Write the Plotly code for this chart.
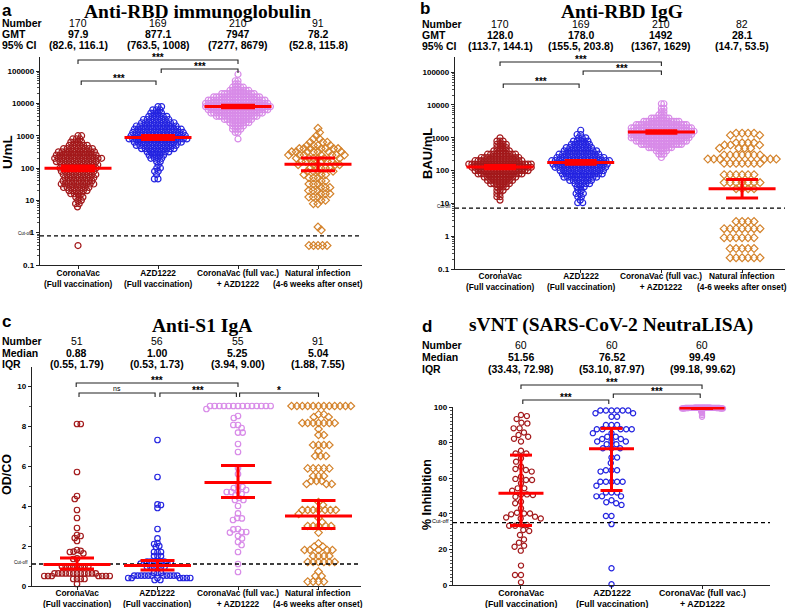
import numpy as np
import plotly.graph_objects as go

W, H = 787, 608

# ---------------------------------------------------------------- text data
CATS = ["CoronaVac<br>(Full vaccination)", "AZD1222<br>(Full vaccination)",
        "CoronaVac (full vac.)<br>+ AZD1222", "Natural infection<br>(4-6 weeks after onset)"]

titles = {"a": "Anti-RBD immunoglobulin", "b": "Anti-RBD IgG",
          "c": "Anti-S1 IgA", "d": "sVNT (SARS-CoV-2 NeutraLISA)"}
ytitles = {"a": "U/mL", "b": "BAU/mL", "c": "OD/CO", "d": "% Inhibition"}
row_labels = {"a": ["Number", "GMT", "95% CI"], "b": ["Number", "GMT", "95% CI"],
              "c": ["Number", "Median", "IQR"], "d": ["Number", "Median", "IQR"]}

a_number = ["170", "169", "210", "91"]
a_gmt = ["97.9", "877.1", "7947", "78.2"]
a_ci = ["(82.6, 116.1)", "(763.5, 1008)", "(7277, 8679)", "(52.8, 115.8)"]
b_number = ["170", "169", "210", "82"]
b_gmt = ["128.0", "178.0", "1492", "28.1"]
b_ci = ["(113.7, 144.1)", "(155.5, 203.8)", "(1367, 1629)", "(14.7, 53.5)"]
c_number = ["51", "56", "55", "91"]
c_median = ["0.88", "1.00", "5.25", "5.04"]
c_iqr = ["(0.55, 1.79)", "(0.53, 1.73)", "(3.94, 9.00)", "(1.88, 7.55)"]
d_number = ["60", "60", "60"]
d_median = ["51.56", "76.52", "99.49"]
d_iqr = ["(33.43, 72.98)", "(53.10, 87.97)", "(99.18, 99.62)"]

log_ticks = [0.1, 1, 10, 100, 1000, 10000, 100000]
log_ticktext = ["0.1", "1", "10", "100", "1000", "10000", "100000"]

a_cv_levels = [1000, 794, 631, 501, 398, 316, 251, 200, 158, 126, 100, 79, 63, 50, 40, 32, 25, 20, 16, 12.6, 10, 7.9, 6.3, 0.4]
a_cv_counts = [2, 3, 4, 6, 9, 11, 12, 14, 12, 11, 11, 10, 10, 9, 9, 10, 8, 6, 4, 3, 2, 2, 1, 1]
a_az_levels = [7943, 6310, 5012, 3981, 3162, 2512, 1995, 1585, 1259, 1000, 794, 631, 501, 398, 316, 251, 200, 158, 126, 100, 79, 63, 46]
a_az_counts = [2, 3, 4, 6, 8, 10, 12, 14, 15, 16, 17, 14, 12, 10, 7, 5, 4, 2, 1, 2, 2, 1, 2]
a_boost_levels = [79400, 50100, 39800, 31600, 25100, 19950, 15850, 12590, 10000, 7943, 6310, 5012, 3981, 3162, 2512, 1995, 1585, 1259, 794]
a_boost_counts = [1, 2, 2, 5, 8, 13, 18, 22, 24, 25, 23, 20, 16, 11, 8, 5, 4, 2, 1]
a_nat_levels = [1700, 1259, 1000, 794, 631, 501, 398, 316, 251, 200, 158, 126, 100, 79, 63, 50, 40, 32, 25, 20, 16, 12.6, 10, 7.9, 1.5, 1.2, 0.4]
a_nat_counts = [1, 1, 1, 2, 3, 4, 7, 7, 7, 6, 5, 5, 4, 4, 3, 3, 2, 3, 3, 3, 3, 3, 2, 2, 1, 1, 5]

b_cv_levels = [1000, 794, 631, 501, 398, 316, 251, 200, 158, 126, 100, 79, 63, 50, 40, 32, 25, 20, 16, 12.6]
b_cv_counts = [1, 3, 4, 4, 6, 10, 13, 16, 21, 20, 18, 15, 11, 9, 7, 4, 3, 2, 2, 1]
b_az_levels = [1700, 1259, 1000, 794, 631, 501, 398, 316, 251, 200, 158, 126, 100, 79, 63, 50, 40, 32, 25, 20, 16, 12.6, 10.5]
b_az_counts = [1, 2, 3, 5, 6, 8, 10, 12, 14, 17, 16, 15, 13, 12, 10, 7, 5, 3, 2, 3, 2, 1, 2]
b_boost_levels = [10900, 7943, 6310, 5012, 3981, 3162, 2512, 1995, 1585, 1259, 1000, 794, 631, 501, 398, 316, 251]
b_boost_counts = [2, 2, 2, 3, 8, 15, 21, 25, 26, 25, 24, 21, 17, 10, 5, 3, 1]
b_nat_levels = [1380, 1200, 700, 600, 480, 300, 224, 166, 75, 43, 28, 2.8, 1.7, 0.9, 0.42, 0.22]
b_nat_counts = [4, 2, 4, 3, 4, 7, 6, 7, 6, 7, 4, 4, 7, 6, 5, 6]

c_cv_levels = [8.1, 5.7, 4.5, 4.35, 3.8, 3.4, 2.9, 2.55, 2.5, 2.4, 2.25, 1.8, 1.76, 1.72, 1.7, 1.63, 1.38, 1.35, 0.97, 0.63, 0.5, 0.35, 0.1]
c_cv_counts = [2, 1, 1, 1, 1, 1, 1, 1, 1, 1, 1, 1, 1, 1, 1, 1, 1, 1, 8, 12, 7, 4, 1]
c_az_levels = [7.3, 5.45, 4.08, 4.05, 3.9, 2.85, 2.38, 2.15, 2.1, 2.0, 1.95, 1.7, 1.5, 1.22, 1.12, 0.95, 0.65, 0.52, 0.4, 0.3]
c_az_counts = [1, 1, 1, 1, 1, 1, 1, 1, 1, 1, 1, 3, 3, 6, 4, 6, 3, 11, 7, 2]
c_boost_levels = [9.0, 8.85, 8.5, 8.4, 8.05, 7.9, 7.67, 7.1, 6.7, 5.9, 5.6, 5.0, 4.95, 4.9, 4.8, 4.75, 4.7, 4.6, 4.55, 4.4, 4.3,
                  4.0, 3.63, 3.4, 3.38, 3.3, 2.85, 2.83, 2.7, 2.67, 2.5, 2.38, 2.2, 2.05, 1.7, 1.1, 0.7]
c_boost_counts = [14, 1, 1, 1, 2, 1, 2, 1, 1, 1, 1, 1, 1, 1, 1, 1, 2, 1, 1, 1, 2,
                  1, 1, 1, 1, 1, 1, 1, 2, 1, 1, 1, 1, 1, 1, 1, 1]
c_nat_levels = [9.0, 8.58, 8.45, 8.15, 7.85, 7.55, 7.05, 6.75, 6.5, 5.88, 5.5, 5.25, 5.1, 4.2, 4.05, 3.8, 3.6, 3.4, 3.2, 3.0, 2.67,
                2.13, 1.97, 1.8, 1.5, 1.2, 0.72, 0.5, 0.22]
c_nat_counts = [12, 2, 2, 7, 1, 2, 4, 1, 3, 5, 3, 3, 3, 1, 1, 7, 1, 1, 1, 5, 1,
                1, 2, 5, 4, 6, 1, 2, 4]

d_cv_values = [95.5, 94.9, 93.2, 91.2, 90.8, 88.0, 88.0, 85.7, 84.3, 83.3, 82.1, 80.6, 75.4, 73.9, 73.9, 71.2, 69.3, 66.5, 65.2, 64.6,
               63.7, 60.8, 59.6, 59.0, 59.0, 57.1, 54.3, 54.3, 53.0, 50.9, 50.9, 50.5, 49.6, 46.8, 45.9, 43.1, 40.6, 40.2, 40.2, 39.7,
               38.4, 37.9, 37.4, 37.4, 34.0, 33.7, 33.3, 33.3, 30.9, 30.3, 28.1, 25.6, 23.8, 22.1, 21.5, 19.3, 10.9, 5.6, 5.6, 1.5]
d_az_levels = [98, 96.5, 94.5, 89.9, 87.5, 85.3, 83.3, 82, 80.6, 79.1, 76.8, 71.6, 68.5, 64.5, 63.7, 58, 55.8, 52, 49.8, 47.6, 46.5,
               45.9, 45, 38.8, 34.2, 9.4, 0.4]
d_az_counts = [6, 2, 2, 3, 5, 2, 2, 2, 3, 2, 3, 2, 1, 3, 1, 5, 1, 3, 3, 1, 1, 1, 1, 2, 1, 1, 1]
d_boost_levels = [99.6, 99.5, 99.4, 99.2, 99.0, 98.5, 97.5, 96.5, 95.5, 94.5]
d_boost_counts = [20, 12, 10, 8, 3, 2, 2, 1, 1, 1]

# summary lines as drawn (centre, lower, upper)
a_center = [97.9, 877.1, 7947, 130]
a_low = [82.6, 763.5, 7277, 82]
a_high = [116.1, 1008, 8679, 205]
b_center = [128.0, 178.0, 1492, 28.1]
b_low = [113.7, 155.5, 1367, 14.7]
b_high = [144.1, 203.8, 1629, 53.5]
c_center = [1.08, 1.02, 5.17, 3.5]
c_low = [0.85, 0.80, 4.42, 2.88]
c_high = [1.40, 1.27, 6.02, 4.27]
d_center = [51.56, 76.52, 99.49]
d_low = [33.43, 53.10, 99.18]
d_high = [72.98, 87.97, 99.62]

cutoffs = {"a": 0.8, "b": 7.2, "c": 1.1, "d": 35}

# ---------------------------------------------------------------- layout geometry (pixels)
PANELS = {
    "a": dict(box=(40, 57, 362, 265), xr=(-0.475, 3.55), yr=(-1, 5.434), log=True, ax=1, lab_y=278.5, lab_fs=8.3),
    "b": dict(box=(455, 57, 785, 269), xr=(-0.558, 3.532), yr=(-1, 5.463), log=True, ax=2, lab_y=281.5, lab_fs=8.3),
    "c": dict(box=(32, 367, 361, 586), xr=(-0.559, 3.528), yr=(0, 10.95), log=False, ax=3, lab_y=598.5, lab_fs=8.3),
    "d": dict(box=(453, 407, 770, 585), xr=(-0.751, 2.751), yr=(0, 100), log=False, ax=4, lab_y=598.5, lab_fs=8.8),
}

COL_RED = "#a3191b"
COL_BLUE = "#2424e0"
COL_VIOLET = "#d88be8"
COL_ORANGE = "#d4832c"
LINE_RED = "#ff0000"
FONT = "Arial, Liberation Sans, sans-serif"
SERIF = "Liberation Serif, Times New Roman, serif"


def P(px, py):
    return px / W, 1 - py / H


def ppu(p):
    g = PANELS[p]
    return (g["box"][2] - g["box"][0]) / (g["xr"][1] - g["xr"][0])


def cat_px(p, c):
    g = PANELS[p]
    return g["box"][0] + (c - g["xr"][0]) * ppu(p)


def val_py(p, v):
    g = PANELS[p]
    x0, y0, x1, y1 = g["box"]
    f = np.log10(v) if g["log"] else np.asarray(v, float)
    return y1 - (f - g["yr"][0]) / (g["yr"][1] - g["yr"][0]) * (y1 - y0)


def axnames(p):
    k = PANELS[p]["ax"]
    return ("x" if k == 1 else f"x{k}"), ("y" if k == 1 else f"y{k}")


def expand(levels, counts):
    out = []
    for v, n in zip(levels, counts):
        out += [v] * n
    return np.array(out, float)


def swarm(ys, d):
    order = np.argsort(ys, kind="stable")
    xs = np.zeros(len(ys))
    px_list, py_list = [], []
    flip = 1
    for idx in order:
        y = ys[idx]
        if px_list:
            pxa = np.array(px_list)
            pya = np.array(py_list)
            dy = np.abs(pya - y)
            m = dy < d
            if m.any():
                h = np.sqrt(d * d - dy[m] ** 2)
                lo = pxa[m] - h
                hi = pxa[m] + h
                cands = np.concatenate([[0.0], lo, hi])
                bad = ((cands[:, None] > lo[None, :] + 1e-7) & (cands[:, None] < hi[None, :] - 1e-7)).any(axis=1)
                good = cands[~bad]
                key = np.abs(good) + 1e-6 * (good * flip > 0)
                xs[idx] = good[np.argmin(key)]
            else:
                xs[idx] = 0.0
        flip = -flip
        px_list.append(xs[idx])
        py_list.append(y)
    return xs


def fit_swarm(ys, d0, half):
    d = d0
    while True:
        xs = swarm(ys, d)
        if np.max(np.abs(xs)) <= half or d < 0.5:
            return xs
        d *= 0.93


fig = go.Figure()

GROUPS = [
    ("a", 0, expand(a_cv_levels, a_cv_counts), COL_RED, "circle-open", 6.0, 6.0, 33),
    ("a", 1, expand(a_az_levels, a_az_counts), COL_BLUE, "circle-open", 6.0, 6.0, 33),
    ("a", 2, expand(a_boost_levels, a_boost_counts), COL_VIOLET, "circle-open", 6.0, 6.0, 33),
    ("a", 3, expand(a_nat_levels, a_nat_counts), COL_ORANGE, "diamond-open", 6.0, 7.5, 33),
    ("b", 0, expand(b_cv_levels, b_cv_counts), COL_RED, "circle-open", 6.0, 6.0, 33),
    ("b", 1, expand(b_az_levels, b_az_counts), COL_BLUE, "circle-open", 6.0, 6.0, 33),
    ("b", 2, expand(b_boost_levels, b_boost_counts), COL_VIOLET, "circle-open", 6.0, 6.0, 33),
    ("b", 3, expand(b_nat_levels, b_nat_counts), COL_ORANGE, "diamond-open", 6.0, 8.0, 36),
    ("c", 0, expand(c_cv_levels, c_cv_counts), COL_RED, "circle-open", 5.5, 5.8, 33),
    ("c", 1, expand(c_az_levels, c_az_counts), COL_BLUE, "circle-open", 5.5, 5.8, 33),
    ("c", 2, expand(c_boost_levels, c_boost_counts), COL_VIOLET, "circle-open", 5.5, 5.8, 33),
    ("c", 3, expand(c_nat_levels, c_nat_counts), COL_ORANGE, "diamond-open", 5.8, 5.8, 33),
    ("d", 0, np.array(d_cv_values, float), COL_RED, "circle-open", 5.2, 8.0, 22),
    ("d", 1, expand(d_az_levels, d_az_counts), COL_BLUE, "circle-open", 5.2, 8.0, 22),
    ("d", 2, expand(d_boost_levels, d_boost_counts), COL_VIOLET, "circle-open", 5.2, 8.0, 22),
]

for p, gi, vals, col, sym, size, d0, half in GROUPS:
    ys_px = val_py(p, vals)
    off = fit_swarm(ys_px, d0, half)
    xa, ya = axnames(p)
    fig.add_trace(go.Scatter(
        x=gi + off / ppu(p), y=vals, mode="markers", xaxis=xa, yaxis=ya,
        marker=dict(symbol=sym, size=size, color=col, line=dict(width=1.2, color=col)),
        cliponaxis=False, showlegend=False, hoverinfo="skip"))

# cut-off lines
for p in "abcd":
    xa, ya = axnames(p)
    g = PANELS[p]
    fig.add_trace(go.Scatter(x=[g["xr"][0], g["xr"][1]], y=[cutoffs[p]] * 2, mode="lines",
                             xaxis=xa, yaxis=ya, line=dict(color="black", width=1.3, dash="4px,3px"),
                             showlegend=False, hoverinfo="skip"))

# summary lines
SUMMARY = {"a": (a_center, a_low, a_high, 33.5, 17),
           "b": (b_center, b_low, b_high, 33.5, 16),
           "c": (c_center, c_low, c_high, 33.5, 17),
           "d": (d_center, d_low, d_high, 22.5, 11)}
for p, (cen, lo, hi, hw, cw) in SUMMARY.items():
    xa, ya = axnames(p)
    u = ppu(p)
    X, Y = [], []
    for i in range(len(cen)):
        X += [i, i, None, i - cw / u, i + cw / u, None, i - cw / u, i + cw / u, None, i - hw / u, i + hw / u, None]
        Y += [lo[i], hi[i], None, lo[i], lo[i], None, hi[i], hi[i], None, cen[i], cen[i], None]
    fig.add_trace(go.Scatter(x=X, y=Y, mode="lines", xaxis=xa, yaxis=ya,
                             line=dict(color=LINE_RED, width=3), cliponaxis=False,
                             showlegend=False, hoverinfo="skip"))

# ---------------------------------------------------------------- axes
layout = dict(width=W, height=H, margin=dict(l=0, r=0, t=0, b=0, autoexpand=False),
              paper_bgcolor="white", plot_bgcolor="white", showlegend=False)
axis_common = dict(showline=True, linecolor="#222", linewidth=1.2, ticks="outside", ticklen=3,
                   tickwidth=1, tickcolor="#222", showgrid=False, zeroline=False, fixedrange=True,
                   automargin=False,
                   tickfont=dict(family=FONT, size=8, color="black", weight="bold"))
for p, g in PANELS.items():
    k = g["ax"]
    x0, y0, x1, y1 = g["box"]
    xk = "xaxis" if k == 1 else f"xaxis{k}"
    yk = "yaxis" if k == 1 else f"yaxis{k}"
    xa, ya = axnames(p)
    ncat = 4 if p != "d" else 3
    layout[xk] = dict(axis_common, domain=[x0 / W, x1 / W], anchor=ya, range=list(g["xr"]),
                      tickmode="array", tickvals=list(range(ncat)), showticklabels=False, ticklen=3)
    ydict = dict(axis_common, domain=[1 - y1 / H, 1 - y0 / H], anchor=xa, range=list(g["yr"]))
    if g["log"]:
        ydict.update(type="log", tickmode="array", tickvals=log_ticks, ticktext=log_ticktext,
                     minor=dict(ticks="outside", ticklen=2, tickcolor="#222", tickwidth=0.8,
                                tickvals=[m * 10.0 ** e for e in range(-1, 5) for m in range(2, 10)]))
    elif p == "c":
        ydict.update(dtick=2, tick0=0, minor=dict(ticks="outside", ticklen=2, dtick=1, tickcolor="#222", tickwidth=0.8))
    else:
        ydict.update(dtick=20, tick0=0, minor=dict(ticks="outside", ticklen=2, dtick=2, tickcolor="#222", tickwidth=0.8))
    layout[yk] = ydict

annotations = []
shapes = []


def text(px, py, s, size=10, bold=True, xanchor="center", yanchor="middle", family=FONT, angle=0):
    x, y = P(px, py)
    annotations.append(dict(x=x, y=y, xref="paper", yref="paper", text=s, showarrow=False,
                            xanchor=xanchor, yanchor=yanchor, textangle=angle, borderpad=0,
                            font=dict(family=family, size=size, color="black", weight="bold" if bold else "normal")))


# category labels under each x axis
for p, g in PANELS.items():
    ncat = 4 if p != "d" else 3
    for i in range(ncat):
        text(cat_px(p, i), g["lab_y"], CATS[i], g["lab_fs"])

# letters and titles
text(1, 10, "a", 17, xanchor="left")
text(419, 9, "b", 17, xanchor="left")
text(1, 321, "c", 17, xanchor="left")
text(421, 326, "d", 17, xanchor="left")
text(197, 0, titles["a"], 19.5, family=SERIF, yanchor="top")
text(622, 0, titles["b"], 19.5, family=SERIF, yanchor="top")
text(202, 325, titles["c"], 19.5, family=SERIF)
text(611, 325, titles["d"], 19.5, family=SERIF)

# header tables
HEAD = {"a": ((a_number, a_gmt, a_ci), 1, [23, 34, 45]),
        "b": ((b_number, b_gmt, b_ci), 421, [24, 34.5, 46]),
        "c": ((c_number, c_median, c_iqr), 1, [341, 352.5, 364]),
        "d": ((d_number, d_median, d_iqr), 421, [345, 357, 368.5])}
for p, (rows, lx, rys) in HEAD.items():
    for r, (lab, ry) in enumerate(zip(row_labels[p], rys)):
        text(lx, ry, lab, 10.5, xanchor="left")
        for i, s in enumerate(rows[r]):
            text(cat_px(p, i), ry, s, 10.5, bold=(r > 0))

# y titles
text(7, 152, ytitles["a"], 13.5, angle=-90)
text(427, 153, ytitles["b"], 13, angle=-90)
text(7, 475, ytitles["c"], 12.5, angle=-90)
text(427, 494, ytitles["d"], 12.5, angle=-90)

# cut-off labels
for p, lx in (("a", 33), ("b", 452), ("c", 29), ("d", 450)):
    text(lx, float(val_py(p, cutoffs[p])) - 2, "Cut-off", 4.5 if p != "d" else 5.5, bold=False, xanchor="right")

# significance brackets
BRACKETS = {"a": [(0.0, 2.0, 60, "***"), (0.04, 0.975, 81, "***"), (1.04, 2.0, 69, "***")],
            "b": [(0.0, 2.0, 62, "***"), (0.04, 0.98, 84, "***"), (1.03, 2.0, 71, "***")],
            "c": [(-0.01, 2.0, 383, "***"), (0.025, 0.97, 393, "ns"), (1.03, 1.98, 393, "***"), (2.02, 3.0, 393, "*")],
            "d": [(0.0, 2.0, 385, "***"), (0.02, 0.97, 400, "***"), (1.02, 1.98, 394, "***")]}
for p, lst in BRACKETS.items():
    for c0, c1, by, lab in lst:
        xa0 = cat_px(p, c0)
        xa1 = cat_px(p, c1)
        (X0, Y0), (X1, Y1), (_, Yt) = P(xa0, by), P(xa1, by), P(0, by + 4)
        shapes.append(dict(type="path", xref="paper", yref="paper",
                           path=f"M {X0},{Yt} L {X0},{Y0} L {X1},{Y0} L {X1},{Yt}",
                           line=dict(color="#222", width=1.1)))
        if lab == "ns":
            text((xa0 + xa1) / 2, by - 4.5, "ns", 7, bold=False)
        else:
            text((xa0 + xa1) / 2, by - 2.5, lab, 10)

layout["annotations"] = annotations
layout["shapes"] = shapes
fig.update_layout(**layout)
fig.write_html("out.html", config={"displayModeBar": False, "staticPlot": True},
               post_script="document.body.style.margin='0px';document.body.style.padding='0px';")
